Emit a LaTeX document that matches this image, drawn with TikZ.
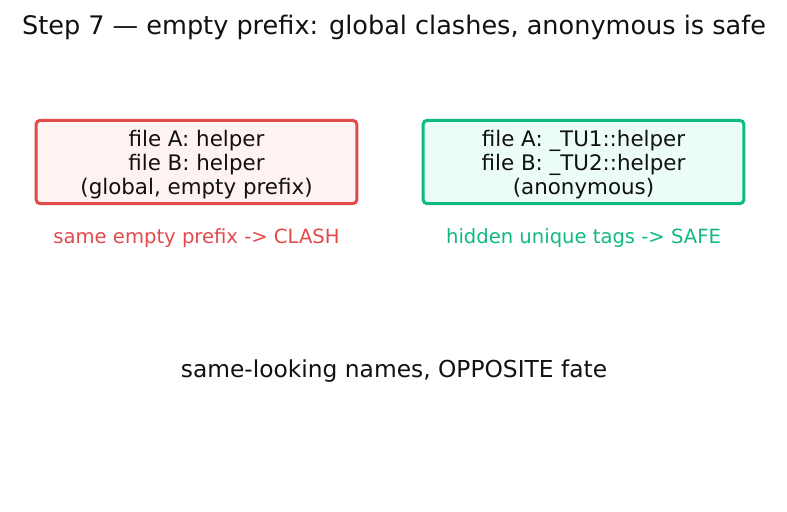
\documentclass[tikz,border=0pt]{standalone}
\usepackage{fontspec}
\setmainfont{DejaVu Sans}
\usetikzlibrary{positioning}
\definecolor{clashred}{RGB}{226,74,74}
\definecolor{clashbg}{RGB}{254,242,242}
\definecolor{safegreen}{RGB}{16,185,129}
\definecolor{safebg}{RGB}{236,253,245}
\definecolor{ink}{RGB}{17,17,17}
\newcommand{\toppad}{\rule{0pt}{16pt}}
\tikzset{
  namebox/.style={
    draw, rounded corners=3pt, line width=2.2pt, align=center,
    minimum width=231pt, minimum height=60pt, inner sep=2pt,
    text=ink, font=\fontsize{15.4}{17.3}\selectfont
  },
  clashbox/.style={namebox, draw=clashred, fill=clashbg},
  safebox/.style={namebox, draw=safegreen, fill=safebg},
  verdict/.style={font=\fontsize{14.1}{16}\selectfont, inner sep=0pt},
}

\begin{document}
\begin{tikzpicture}[x=0.72pt, y=-0.72pt]
  \useasboundingbox (0,0) rectangle (787,512);
  \node[font=\fontsize{18.4}{21}\selectfont, text=ink] (title) at (394,27)
    {Step 7 — empty prefix: global clashes, anonymous is safe};

  \node[clashbox] (global) at (196.5,162) {\toppad file A: helper\\file B: helper\\(global, empty prefix)};
  \node[safebox] (anon) at (583.5,162) {\toppad file A: \_TU1::helper\\file B: \_TU2::helper\\(anonymous)};

  \node[verdict, text=clashred, below=16.7pt of global] (clash) {same empty prefix -> CLASH};
  \node[verdict, text=safegreen, below=16.7pt of anon] (safe) {hidden unique tags -> SAFE};

  \node[font=\fontsize{16.8}{19}\selectfont, text=ink] (fate) at (394,371)
    {same-looking names, OPPOSITE fate};
\end{tikzpicture}
\end{document}
